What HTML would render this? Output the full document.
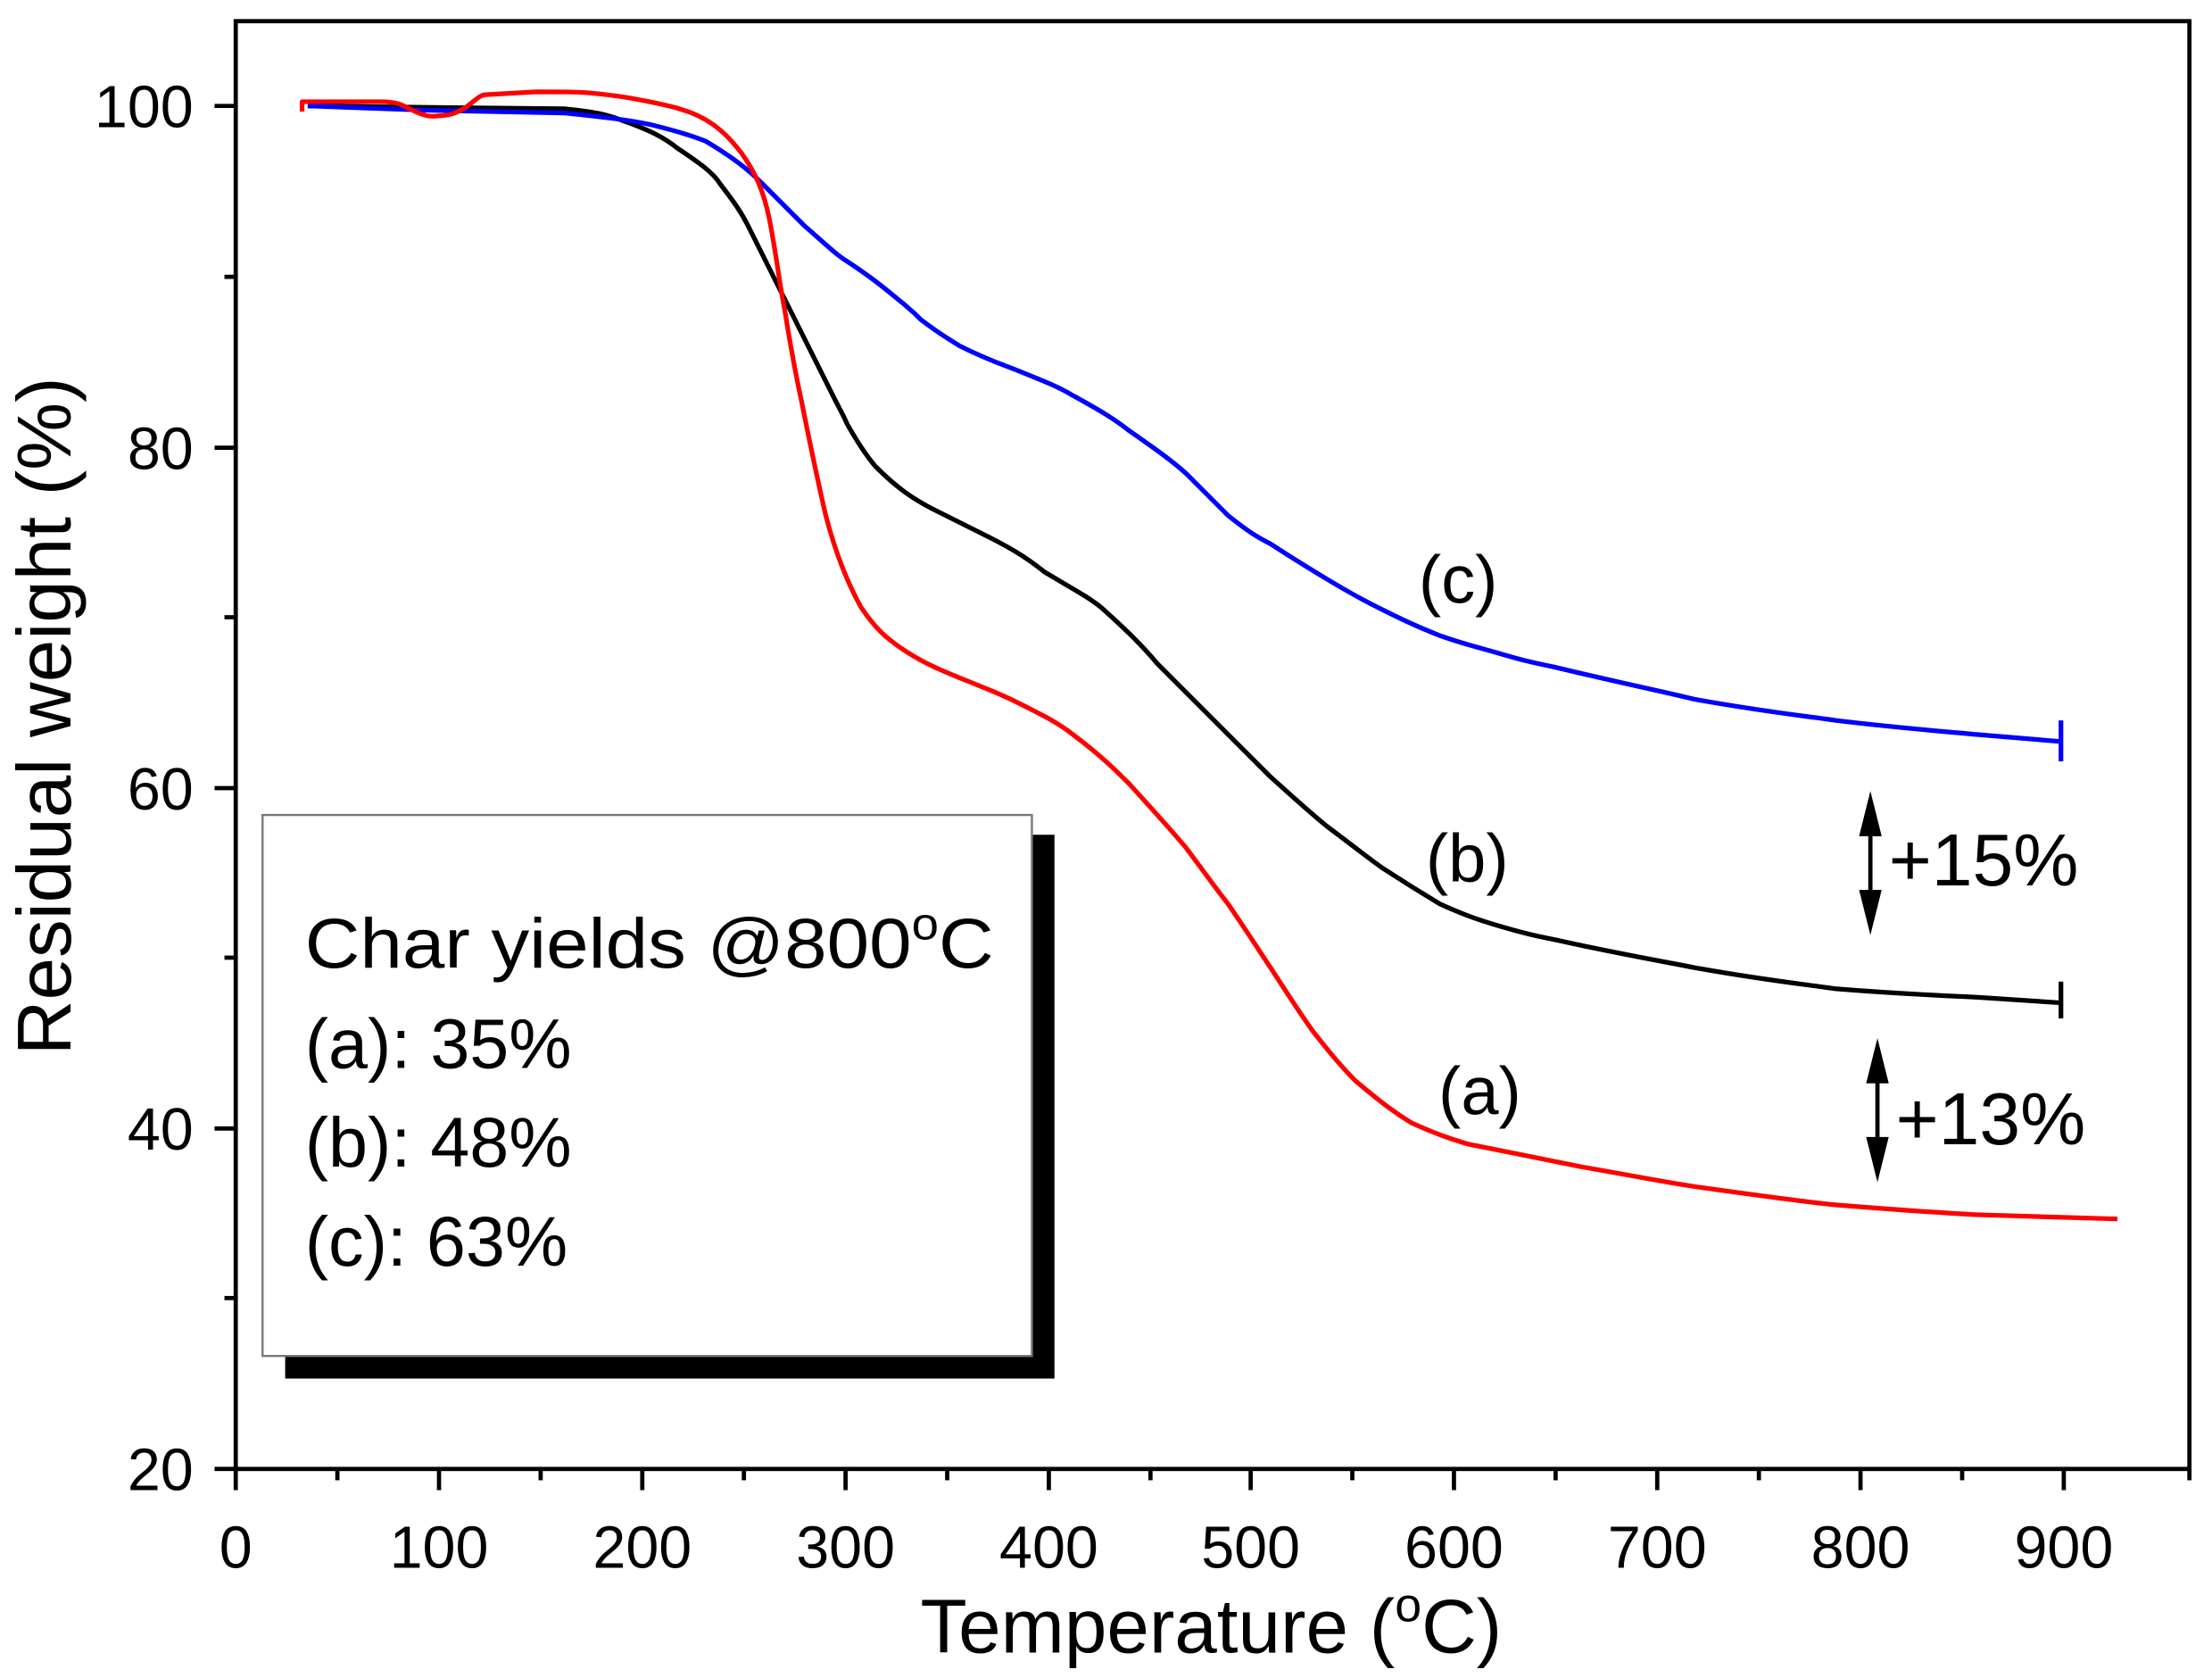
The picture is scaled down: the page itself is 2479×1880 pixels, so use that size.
<!DOCTYPE html>
<html><head><meta charset="utf-8"><style>html,body{margin:0;padding:0;background:#fff;overflow:hidden}svg{display:block}</style></head>
<body>
<svg width="2479" height="1880" viewBox="0 0 1567 1188" preserveAspectRatio="none" xmlns="http://www.w3.org/2000/svg" font-family="'Liberation Sans', sans-serif">
<rect width="1567" height="1188" fill="#fff"/>
<!-- legend box -->
<rect x="202" y="591" width="545" height="385" fill="#000"/>
<rect x="186" y="577" width="545" height="383" fill="#fff" stroke="#777" stroke-width="1.5"/>
<text x="216" y="685" font-size="50" textLength="488" lengthAdjust="spacingAndGlyphs">Char yields @800<tspan font-size="32" dy="-20">o</tspan><tspan dy="20">C</tspan></text>
<text x="216" y="756" font-size="50">(a): 35%</text>
<text x="216" y="826" font-size="50">(b): 48%</text>
<text x="216" y="896" font-size="50">(c): 63%</text>
<!-- axes frame -->
<rect x="167" y="15" width="1384" height="1025" fill="none" stroke="#000" stroke-width="3"/>
<g stroke="#000" stroke-width="3">
<line x1="152" y1="75" x2="167" y2="75"/><line x1="152" y1="317" x2="167" y2="317"/><line x1="152" y1="558" x2="167" y2="558"/><line x1="152" y1="799" x2="167" y2="799"/><line x1="152" y1="1040" x2="167" y2="1040"/>
<line x1="159" y1="196" x2="167" y2="196"/><line x1="159" y1="437" x2="167" y2="437"/><line x1="159" y1="678" x2="167" y2="678"/><line x1="159" y1="919" x2="167" y2="919"/>
<line x1="167" y1="1040" x2="167" y2="1055"/><line x1="311" y1="1040" x2="311" y2="1055"/><line x1="455" y1="1040" x2="455" y2="1055"/><line x1="599" y1="1040" x2="599" y2="1055"/><line x1="743" y1="1040" x2="743" y2="1055"/><line x1="886" y1="1040" x2="886" y2="1055"/><line x1="1030" y1="1040" x2="1030" y2="1055"/><line x1="1174" y1="1040" x2="1174" y2="1055"/><line x1="1318" y1="1040" x2="1318" y2="1055"/><line x1="1462" y1="1040" x2="1462" y2="1055"/>
<line x1="239" y1="1040" x2="239" y2="1048"/><line x1="383" y1="1040" x2="383" y2="1048"/><line x1="527" y1="1040" x2="527" y2="1048"/><line x1="671" y1="1040" x2="671" y2="1048"/><line x1="815" y1="1040" x2="815" y2="1048"/><line x1="958" y1="1040" x2="958" y2="1048"/><line x1="1102" y1="1040" x2="1102" y2="1048"/><line x1="1246" y1="1040" x2="1246" y2="1048"/><line x1="1390" y1="1040" x2="1390" y2="1048"/><line x1="1551" y1="1040" x2="1551" y2="1048"/>
</g>
<g font-size="42" text-anchor="end">
<text x="137" y="90">100</text><text x="137" y="332">80</text><text x="137" y="573">60</text><text x="137" y="814">40</text><text x="137" y="1055">20</text>
</g>
<g font-size="42" text-anchor="middle">
<text x="167" y="1110">0</text><text x="311" y="1110">100</text><text x="455" y="1110">200</text><text x="599" y="1110">300</text><text x="743" y="1110">400</text><text x="886" y="1110">500</text><text x="1030" y="1110">600</text><text x="1174" y="1110">700</text><text x="1318" y="1110">800</text><text x="1462" y="1110">900</text>
</g>
<text x="858" y="1170" font-size="54" text-anchor="middle">Temperature (<tspan font-size="34" dy="-22">o</tspan><tspan dy="22">C)</tspan></text>
<text transform="translate(50,507) rotate(-90)" font-size="54" text-anchor="middle">Residual weight (%)</text>
<!-- curves -->
<g fill="none" stroke-width="3.3" stroke-linejoin="round">
<path stroke="#000" d="M218,75 L300,76 L400,77 C420,79 430,81 440,85 C460,92 470,97 480,105 C495,115 505,122 510,130 C520,143 525,150 530,160 C540,180 545,190 550,200 C560,220 565,230 570,240 C580,260 585,270 590,280 C595,290 598,295 600,300 C608,314 614,323 620,330 C635,345 645,352 660,360 C680,370 690,375 700,380 C720,390 730,397 740,405 C760,417 770,422 780,430 C800,448 810,458 820,470 C840,490 850,500 860,510 C880,530 890,540 900,550 C920,568 930,577 940,585 C960,600 970,608 980,615 C1000,628 1010,634 1020,640 C1040,649 1050,652 1060,655 C1080,661 1090,663 1100,665 C1150,676 1180,681 1200,685 C1250,694 1280,697 1300,700 C1350,704 1380,705 1400,706 L1460,710"/>
<line x1="1460" y1="695" x2="1460" y2="721" stroke="#000"/>
<path stroke="#0000ff" d="M218,75 L300,78 L400,80 C430,83 445,85 460,88 C480,93 490,96 500,100 C520,112 530,120 540,130 C555,145 562,152 570,160 C585,173 592,180 600,185 C620,198 630,207 640,215 L648,222 L652,226 C665,236 672,240 680,245 C700,255 710,258 720,262 C740,270 750,274 760,280 C780,291 790,297 800,305 C820,319 830,326 840,335 C855,350 862,357 870,365 C885,377 892,381 900,385 C920,398 930,404 940,410 C960,422 970,427 980,432 C1000,442 1010,446 1020,450 C1040,457 1050,459 1060,462 C1080,468 1090,470 1100,472 C1150,484 1180,490 1200,495 C1250,504 1280,507 1300,510 C1350,516 1380,518 1400,520 L1460,525"/>
<line x1="1460" y1="510" x2="1460" y2="539" stroke="#0000ff"/>
<path stroke="#ff0000" d="M214,79 L214,72 L230,72 L270,72 C282,72 286,75 290,77 C300,82 305,83 310,82 C320,82 325,79 330,76 C338,70 340,67 345,67 L380,65 C400,65 410,65 420,66 C440,68 450,70 460,72 C475,75 482,77 490,80 C505,86 515,95 525,108 C535,122 541,135 545,155 C550,180 552,200 556,220 C560,245 563,262 568,285 C573,310 578,335 585,365 C592,392 600,412 610,430 C620,445 628,452 640,460 C655,470 668,475 680,480 C700,488 710,492 720,497 C740,507 750,512 760,520 C780,535 790,545 800,555 C820,577 830,588 840,600 C855,620 862,630 870,640 C885,662 892,673 900,685 C915,708 922,719 930,730 C945,749 952,757 960,765 C980,782 990,789 1000,795 C1020,804 1030,807 1040,810 C1060,814 1070,816 1080,818 C1100,822 1110,824 1120,826 C1160,833 1180,837 1200,840 C1250,847 1280,851 1300,853 C1350,857 1380,859 1400,860 L1500,863"/>
</g>
<!-- labels -->
<g font-size="48">
<text x="1005" y="427">(c)</text>
<text x="1010" y="624">(b)</text>
<text x="1019" y="789">(a)</text>
</g>
<!-- arrows -->
<g fill="#000" stroke="#000">
<line x1="1325" y1="575" x2="1325" y2="648" stroke-width="3"/>
<polygon points="1325,560 1317,592 1333,592" stroke="none"/>
<polygon points="1325,662 1317,630 1333,630" stroke="none"/>
<line x1="1330" y1="750" x2="1330" y2="823" stroke-width="3"/>
<polygon points="1330,735 1322,767 1338,767" stroke="none"/>
<polygon points="1330,837 1322,805 1338,805" stroke="none"/>
</g>
<g font-size="52">
<text x="1338" y="627">+15%</text>
<text x="1343" y="810">+13%</text>
</g>
</svg>
</body></html>
